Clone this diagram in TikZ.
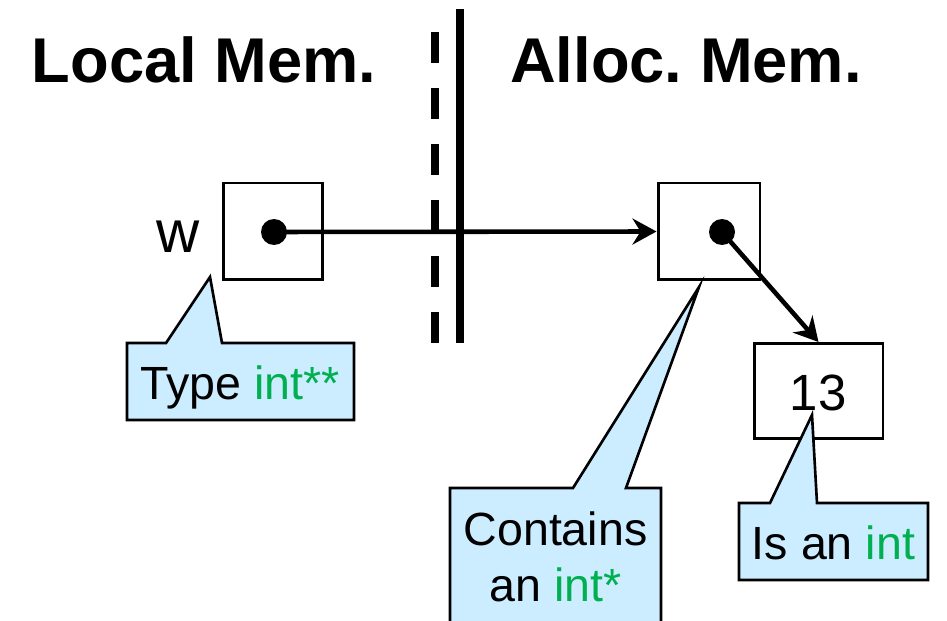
\documentclass[tikz,border=0pt]{standalone}
\usepackage{fontspec}
\setmainfont{Liberation Sans}
\usetikzlibrary{arrows.meta,positioning}

\definecolor{notefill}{RGB}{204,236,255}
\definecolor{typegreen}{RGB}{0,176,80}

\tikzset{
  txt/.style={font=\fontsize{26.5}{32}\selectfont,inner sep=0pt},
  title/.style={font=\bfseries\fontsize{36}{40}\selectfont,inner sep=0pt,anchor=base},
  cell/.style={draw,line width=1.7pt,inner sep=0pt},
  dot/.style={circle,fill,inner sep=0pt,minimum size=0.52cm},
  ptr/.style={line width=2.6pt,-{Stealth[length=4.8mm,width=5.2mm,inset=1.6mm]}},
  note/.style={draw,fill=notefill,line width=1.5pt,line join=miter},
  wall/.style={line width=4.4pt}
}
\newcommand{\ty}[1]{\textcolor{typegreen}{#1}}
\frenchspacing

\begin{document}
\begin{tikzpicture}[x=0.02cm,y=-0.02cm]
\clip (0,0) rectangle (947,621);

% Headings
\node[title] (local) at (204,83) {Local Mem.};
\node[title] (alloc) at (686,83) {Alloc. Mem.};

% Boundary between the two memories
\draw[wall,dash pattern=on 0.62cm off 0.5cm] (435,32) -- (435,343);
\draw[wall] (460,9) -- (460,343);

% Memory cells
\node[cell,minimum width=2cm,minimum height=1.94cm] (wcell) at (273,231.5) {};
\node[txt,anchor=base,font=\fontsize{34}{40}\selectfont] (wlabel) at (178,253) {w};
\node[cell,minimum width=2.04cm,minimum height=1.94cm] (pcell) at (709,231.5) {};
\node[cell,minimum width=2.58cm,minimum height=1.9cm] (vcell) at (818.5,391) {};
\node[txt,anchor=base,font=\fontsize{29}{34}\selectfont] (val) at (818,411) {13};

% Pointers
\node[dot] (wdot) at (274,232) {};
\node[dot] (pdot) at (722,232) {};
\draw[ptr] (wdot.center) -- (pcell.west);
\draw[ptr] (pdot.center) -- (vcell.north);

% Notes
\draw[note] (127,343) -- (166,343) -- (210,277) -- (222,343) -- (354,343)
  -- (354,420) -- (127,420) -- cycle;
\node[txt,anchor=base] (typenote) at (240,400) {Type \ty{int**}};

\draw[note] (450,488) -- (573,488) -- (699,287) -- (626,488) -- (661,488)
  -- (661,640) -- (450,640) -- cycle;
\node[txt,anchor=base] (containsnote) at (555.5,545) {Contains};
\node[txt,anchor=base] (containsnote2) at (555.5,602) {an \ty{int*}};

\draw[note] (739,503) -- (770,503) -- (812,415) -- (817,503) -- (928,503)
  -- (928,580) -- (739,580) -- cycle;
\node[txt,anchor=base] (intnote) at (833.5,560) {Is an \ty{int}};
\end{tikzpicture}
\end{document}
